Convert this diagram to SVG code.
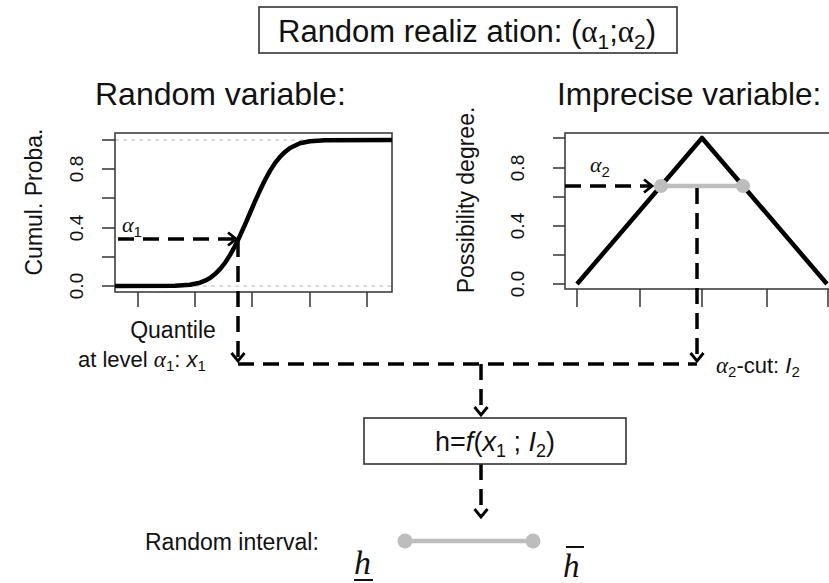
<svg xmlns="http://www.w3.org/2000/svg" width="829" height="583" viewBox="0 0 829 583">
<style>
text{font-family:"Liberation Sans",Arial,sans-serif;fill:#111}
.gr{font-family:"Liberation Serif","Times New Roman",serif;font-style:italic}
.up{font-family:"Liberation Serif","Times New Roman",serif}
.box{fill:#fff;stroke:#333;stroke-width:1.6}
.frame{fill:none;stroke:#333;stroke-width:1.5}
.tick{stroke:#333;stroke-width:1.5}
.grid{stroke:#bbb;stroke-width:1.2;stroke-dasharray:4 4}
.curve{fill:none;stroke:#000;stroke-width:4.5;stroke-linejoin:round}
.dash{fill:none;stroke:#000;stroke-width:3.5;stroke-dasharray:16 9}
.cut{stroke:#bdbdbd;stroke-width:4.5}
.dot{fill:#bdbdbd}
.tl{font-size:19px}
.al{font-size:23px}
</style>
<defs>
<marker id="ah" viewBox="0 0 12 16" refX="10" refY="8" markerWidth="12" markerHeight="16" markerUnits="userSpaceOnUse" orient="auto">
<path d="M2,1.5 L10,8 L2,14.5" fill="none" stroke="#000" stroke-width="2.8"/>
</marker>
</defs>

<g id="title">
<rect class="box" x="259" y="7" width="418" height="46"/>
<text x="278" y="42" font-size="31">Random realiz ation: (<tspan class="up">α</tspan><tspan font-size="21" dy="7">1</tspan><tspan dy="-7">;</tspan><tspan class="up">α</tspan><tspan font-size="21" dy="7">2</tspan><tspan dy="-7">)</tspan></text>
</g>

<g id="random-variable">
<text x="95" y="105" font-size="32">Random variable:</text>
<line class="grid" x1="115" y1="140" x2="392" y2="140"/>
<line class="grid" x1="115" y1="286" x2="392" y2="286"/>
<rect class="frame" x="115" y="133" width="277" height="159"/>
<g class="tick">
<line x1="102" y1="286" x2="115" y2="286"/><line x1="102" y1="257" x2="115" y2="257"/>
<line x1="102" y1="228" x2="115" y2="228"/><line x1="102" y1="198" x2="115" y2="198"/>
<line x1="102" y1="169" x2="115" y2="169"/><line x1="102" y1="140" x2="115" y2="140"/>
<line x1="138" y1="292" x2="138" y2="307"/><line x1="195" y1="292" x2="195" y2="307"/>
<line x1="252" y1="292" x2="252" y2="307"/><line x1="310" y1="292" x2="310" y2="307"/>
<line x1="367" y1="292" x2="367" y2="307"/>
</g>
<text class="tl" transform="translate(83,286) rotate(-90)" text-anchor="middle">0.0</text>
<text class="tl" transform="translate(83,228) rotate(-90)" text-anchor="middle">0.4</text>
<text class="tl" transform="translate(83,169) rotate(-90)" text-anchor="middle">0.8</text>
<text class="al" transform="translate(42,202) rotate(-90)" text-anchor="middle">Cumul. Proba.</text>
<path class="curve" d="M115,286 L175,285.8 L190,284.8 L200,282.7 L205,280.7 L210,278 L215,274.1 L220,269.2 L225,262.9 L230,255.1 L235,246 L240,235.7 L245,224.6 L250,213 L255,201.4 L260,190.3 L265,180 L270,170.9 L275,163.1 L280,156.8 L285,151.9 L290,148 L300,143.3 L310,141.2 L325,140.2 L392,140"/>
<text class="gr" x="122" y="232" font-size="22">α<tspan font-size="15" dy="5" font-style="normal" font-family="Liberation Sans">1</tspan></text>
<text x="173" y="338" font-size="23" text-anchor="middle">Quantile</text>
<text x="78" y="367" font-size="22">at level <tspan class="gr" font-size="23">α</tspan><tspan font-size="15" dy="4">1</tspan><tspan dy="-4">: </tspan><tspan font-style="italic">x</tspan><tspan font-size="15" dy="4">1</tspan></text>
</g>

<g id="imprecise-variable">
<text x="557" y="105" font-size="31.5">Imprecise variable:</text>
<path class="frame" d="M835,133 L565,133 L565,289 L835,289"/>
<g class="tick">
<line x1="553" y1="284" x2="565" y2="284"/><line x1="553" y1="255" x2="565" y2="255"/>
<line x1="553" y1="226" x2="565" y2="226"/><line x1="553" y1="197" x2="565" y2="197"/>
<line x1="553" y1="168" x2="565" y2="168"/><line x1="553" y1="138" x2="565" y2="138"/>
<line x1="577" y1="289" x2="577" y2="307"/><line x1="640" y1="289" x2="640" y2="307"/>
<line x1="702" y1="289" x2="702" y2="307"/><line x1="767" y1="289" x2="767" y2="307"/>
<line x1="828" y1="289" x2="828" y2="307"/>
</g>
<text class="tl" transform="translate(524,284) rotate(-90)" text-anchor="middle">0.0</text>
<text class="tl" transform="translate(524,226) rotate(-90)" text-anchor="middle">0.4</text>
<text class="tl" transform="translate(524,168) rotate(-90)" text-anchor="middle">0.8</text>
<text class="al" transform="translate(474,200) rotate(-90)" text-anchor="middle">Possibility degree.</text>
<polyline class="curve" points="577,284 702,138 827,284"/>
<line class="cut" x1="661" y1="186" x2="743" y2="186"/>
<circle class="dot" cx="661" cy="186" r="7"/>
<circle class="dot" cx="743" cy="186" r="7"/>
<text class="gr" x="590" y="172" font-size="22">α<tspan font-size="15" dy="5" font-style="normal" font-family="Liberation Sans">2</tspan></text>
<text x="716" y="373" font-size="22"><tspan class="gr" font-size="23">α</tspan><tspan font-size="15" dy="4">2</tspan><tspan dy="-4">-cut: </tspan><tspan font-style="italic">I</tspan><tspan font-size="15" dy="4">2</tspan></text>
</g>

<g id="connectors">
<line class="dash" x1="118" y1="239" x2="236" y2="239" marker-end="url(#ah)"/>
<line class="dash" x1="238" y1="241" x2="238" y2="361" marker-end="url(#ah)"/>
<line class="dash" x1="238" y1="364" x2="697" y2="364"/>
<line class="dash" x1="565" y1="186" x2="652" y2="186" marker-end="url(#ah)"/>
<line class="dash" x1="697" y1="188" x2="697" y2="361" marker-end="url(#ah)"/>
<line class="dash" x1="481" y1="364" x2="481" y2="415" marker-end="url(#ah)" stroke-dasharray="16 10"/>
<line class="dash" x1="481" y1="464" x2="481" y2="517" marker-end="url(#ah)" stroke-dasharray="16 10"/>
</g>

<g id="function-box">
<rect class="box" x="364" y="418" width="262" height="46"/>
<text x="495" y="451" font-size="27" text-anchor="middle">h=<tspan font-style="italic">f</tspan>(<tspan font-style="italic">x</tspan><tspan font-size="18" dy="6">1</tspan><tspan dy="-6"> ; </tspan><tspan font-style="italic">I</tspan><tspan font-size="18" dy="6">2</tspan><tspan dy="-6">)</tspan></text>
</g>

<g id="random-interval">
<text x="145" y="550" font-size="23">Random interval:</text>
<line class="cut" x1="405" y1="541" x2="533" y2="541" stroke-width="5"/>
<circle class="dot" cx="405" cy="541" r="7.5"/>
<circle class="dot" cx="533" cy="541" r="7.5"/>
<text class="gr" x="354" y="574" font-size="34">h</text>
<line x1="354" y1="580" x2="373" y2="580" stroke="#111" stroke-width="2"/>
<text class="gr" x="563" y="577" font-size="33">h</text>
<line x1="566" y1="547" x2="584" y2="547" stroke="#111" stroke-width="2"/>
</g>
</svg>
